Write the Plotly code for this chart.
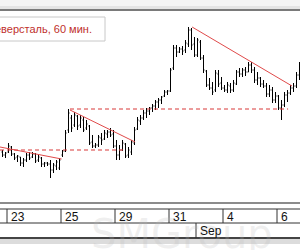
import plotly.graph_objects as go

# ---- data (60-min bars, Severstal) ----
bar_idx = list(range(100))
high = [250,248,257,254,247,245,243,242,247,248,248,247,245,243,238,238,240,237,240,242,
        250,270,291,285,288,285,285,283,280,275,265,257,265,267,270,270,272,270,260,255,
        260,257,253,260,273,283,285,290,292,293,296,300,302,304,310,310,332,355,355,353,
        354,360,373,372,363,362,360,345,330,322,318,330,330,323,315,318,317,320,330,332,
        332,333,338,338,333,328,323,320,317,315,313,308,305,300,308,310,315,317,328,338]
low = [243,242,247,244,240,238,234,233,238,240,242,237,238,233,233,234,222,227,230,230,
       243,248,267,268,273,270,272,268,270,255,252,252,253,255,260,262,263,252,240,240,
       249,242,242,245,255,270,275,280,282,285,288,290,292,296,303,305,308,330,343,347,
       345,347,353,350,343,343,340,327,313,310,305,308,313,310,308,307,307,308,315,323,
       323,324,328,327,317,315,313,312,303,303,297,297,290,280,293,298,305,308,312,320]
open_ = [248,245,248,253,246,243,243,237,240,245,243,246,240,242,236,237,236,230,234,232,
         245,249,270,282,275,284,275,280,272,274,258,254,255,262,261,266,268,266,254,245,
         250,256,245,248,257,271,279,282,287,289,292,294,298,300,304,308,309,332,352,348,
         351,350,356,370,356,345,358,342,329,315,312,310,326,317,312,310,314,310,316,328,
         326,330,328,335,330,320,322,316,314,306,310,300,304,292,295,305,307,312,314,325]
close = [245,247,254,246,242,244,237,240,245,242,246,239,243,236,237,236,230,235,238,240,
         249,267,287,272,285,274,282,270,276,257,254,255,263,260,267,268,265,254,245,250,
         257,244,250,258,270,280,282,287,289,292,294,298,300,303,308,309,330,352,348,351,
         349,357,370,355,345,360,342,330,315,312,308,327,316,312,310,315,310,317,328,326,
         330,328,335,330,320,322,316,314,306,310,300,304,292,295,305,307,312,314,325,334]

# trend / level lines drawn on the chart (bar index, price)
trend_lines = [([-0.83, 19.7], [253, 241]),
               ([22.5, 44.2], [290, 258]),
               ([63.2, 96.5], [373, 314])]
level_lines = [([-0.83, 40.2], [250, 250]),
               ([22.5, 95.2], [291, 291])]

day_ticks = [1.5, 19.5, 37.5, 55.5, 73.5, 91.5]
day_labels = ["23", "25", "29", "31", "4", "6"]
month_ticks = [64.5]
month_labels = ["Sep"]
title_text = "Северсталь, 60 мин."

fig = go.Figure()
fig.add_trace(go.Ohlc(x=bar_idx, open=open_, high=high, low=low, close=close,
                      increasing=dict(line=dict(color="black", width=1)),
                      decreasing=dict(line=dict(color="black", width=1)),
                      tickwidth=0.33, hoverinfo="skip", showlegend=False))
for xs, ys in trend_lines:
    fig.add_trace(go.Scatter(x=xs, y=ys, mode="lines", hoverinfo="skip", showlegend=False,
                             line=dict(color="#e04a4a", width=1)))
for xs, ys in level_lines:
    fig.add_trace(go.Scatter(x=xs, y=ys, mode="lines", hoverinfo="skip", showlegend=False,
                             line=dict(color="#d83838", width=1, dash="4px,3px")))

def py(px):
    return 1 - px / 250.0

shapes = []
# top shadow and border
shapes.append(dict(type="rect", xref="paper", yref="paper", x0=0, x1=1, y0=py(9), y1=py(0),
                   fillcolor="#f4f4f4", line=dict(width=0), layer="below"))
shapes.append(dict(type="rect", xref="paper", yref="paper", x0=0, x1=1, y0=py(9), y1=py(6),
                   fillcolor="#e4e4e4", line=dict(width=0), layer="below"))
shapes.append(dict(type="line", xref="paper", yref="paper", x0=0, x1=1, y0=py(10), y1=py(10),
                   line=dict(color="#7a7a7a", width=2)))
# title box
shapes.append(dict(type="rect", xref="paper", yref="paper", x0=-0.01, x1=105/300, y0=py(41), y1=py(17),
                   fillcolor="white", line=dict(color="#c8c8c8", width=1)))
# plot bottom border
shapes.append(dict(type="line", xref="paper", yref="paper", x0=0, x1=1, y0=py(203), y1=py(203),
                   line=dict(color="#8c8c8c", width=2)))
# axis box
for yy, w, c in [(209, 1, "#333333"), (223, 1, "#333333"), (238, 2, "#444444")]:
    shapes.append(dict(type="line", xref="paper", yref="paper", x0=0, x1=1, y0=py(yy), y1=py(yy),
                       line=dict(color=c, width=w)))
shapes.append(dict(type="rect", xref="paper", yref="paper", x0=0, x1=1, y0=py(244), y1=py(239),
                   fillcolor="#dcdcdc", line=dict(width=0), layer="below"))
for t in day_ticks:
    shapes.append(dict(type="line", xref="x", yref="paper", x0=t, x1=t, y0=py(223), y1=py(209),
                       line=dict(color="#333333", width=1)))
for t in month_ticks:
    shapes.append(dict(type="line", xref="x", yref="paper", x0=t, x1=t, y0=py(238), y1=py(223),
                       line=dict(color="#333333", width=1)))

annotations = []
annotations.append(dict(text="SMGroup", xref="paper", yref="paper", x=182/300, y=py(234),
                        xanchor="center", yanchor="middle", showarrow=False,
                        font=dict(family="DejaVu Sans", size=40, color="rgba(185,185,185,0.22)")))
for t, lab in zip(day_ticks, day_labels):
    annotations.append(dict(text=lab, xref="x", yref="paper", x=t + 0.7, y=py(216.5),
                            xanchor="left", yanchor="middle", showarrow=False,
                            font=dict(family="Liberation Sans", size=12, color="#111111")))
for t, lab in zip(month_ticks, month_labels):
    annotations.append(dict(text=lab, xref="x", yref="paper", x=t + 0.7, y=py(231),
                            xanchor="left", yanchor="middle", showarrow=False,
                            font=dict(family="Liberation Sans", size=12, color="#111111")))
annotations.append(dict(text=title_text, xref="paper", yref="paper", x=-15/300, y=py(29),
                        xanchor="left", yanchor="middle", showarrow=False,
                        font=dict(family="Liberation Sans", size=11, color="#c0302c")))

fig.update_layout(
    width=300, height=250, margin=dict(l=0, r=0, t=0, b=0),
    paper_bgcolor="white", plot_bgcolor="rgba(0,0,0,0)",
    xaxis=dict(range=[-0.833, 99.167], showgrid=False, zeroline=False, showticklabels=False,
               ticks="", rangeslider=dict(visible=False), fixedrange=True),
    yaxis=dict(domain=[py(203), py(10)], range=[197, 390], showgrid=False, zeroline=False,
               showticklabels=False, ticks="", fixedrange=True),
    shapes=shapes, annotations=annotations, showlegend=False,
)
fig.write_html("out.html", config={"displayModeBar": False})
